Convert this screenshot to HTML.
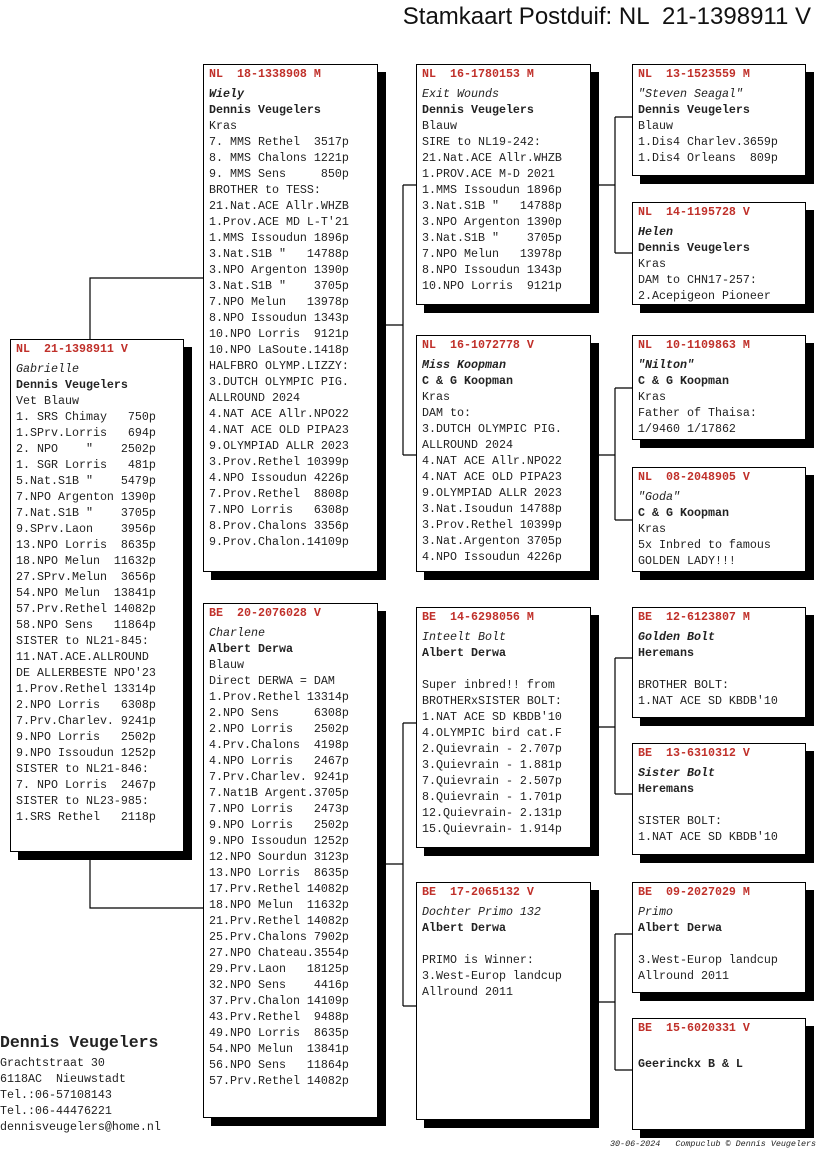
<!DOCTYPE html>
<html><head><meta charset="utf-8"><style>
body{margin:0;width:816px;height:1172px;background:#fff;position:relative;overflow:hidden;font-family:"Liberation Mono",monospace;font-size:11.67px;color:#222}
.b{position:absolute;background:#fff;border:1px solid #000;box-shadow:8px 8px 0 #000;box-sizing:border-box;padding:0 0 0 5px;white-space:pre;line-height:16px}
.h{color:#c0302a;font-weight:bold;margin-top:1px;margin-bottom:4px}
.i{font-style:italic}
.bo{font-weight:bold}
svg{position:absolute;left:0;top:0}
.t{position:absolute;right:5px;top:3px;font-family:"Liberation Sans",sans-serif;font-size:24px;color:#111;white-space:pre}
</style></head><body>
<svg width="816" height="1172"><g stroke="#000" stroke-width="1.2" fill="none">
<path d="M90 339V278H203M90 852V908H203"/>
<path d="M377 325H403M403 185V455M403 185H416M403 455H416"/>
<path d="M377 864H403M403 723V1006M403 723H416M403 1006H416"/>
<path d="M590 185H615M615 117V253M615 117H632M615 253H632"/>
<path d="M590 455H615M615 388V520M615 388H632M615 520H632"/>
<path d="M590 727H615M615 658V794M615 658H632M615 794H632"/>
<path d="M590 1002H615M615 934V1070M615 934H632M615 1070H632"/>
</g></svg>
<div class="t">Stamkaart Postduif: NL  21-1398911 V</div>

<div class="b" style="left:10px;top:339px;width:174px;height:513px"><div class="h">NL  21-1398911 V</div><div class="i">Gabrielle</div><div class="bo">Dennis Veugelers</div>Vet Blauw
1. SRS Chimay   750p
1.SPrv.Lorris   694p
2. NPO    "    2502p
1. SGR Lorris   481p
5.Nat.S1B "    5479p
7.NPO Argenton 1390p
7.Nat.S1B "    3705p
9.SPrv.Laon    3956p
13.NPO Lorris  8635p
18.NPO Melun  11632p
27.SPrv.Melun  3656p
54.NPO Melun  13841p
57.Prv.Rethel 14082p
58.NPO Sens   11864p
SISTER to NL21-845:
11.NAT.ACE.ALLROUND
DE ALLERBESTE NPO'23
1.Prov.Rethel 13314p
2.NPO Lorris   6308p
7.Prv.Charlev. 9241p
9.NPO Lorris   2502p
9.NPO Issoudun 1252p
SISTER to NL21-846:
7. NPO Lorris  2467p
SISTER to NL23-985:
1.SRS Rethel   2118p</div>

<div class="b" style="left:203px;top:64px;width:175px;height:508px"><div class="h">NL  18-1338908 M</div><div class="i bo">Wiely</div><div class="bo">Dennis Veugelers</div>Kras
7. MMS Rethel  3517p
8. MMS Chalons 1221p
9. MMS Sens     850p
BROTHER to TESS:
21.Nat.ACE Allr.WHZB
1.Prov.ACE MD L-T'21
1.MMS Issoudun 1896p
3.Nat.S1B "   14788p
3.NPO Argenton 1390p
3.Nat.S1B "    3705p
7.NPO Melun   13978p
8.NPO Issoudun 1343p
10.NPO Lorris  9121p
10.NPO LaSoute.1418p
HALFBRO OLYMP.LIZZY:
3.DUTCH OLYMPIC PIG.
ALLROUND 2024
4.NAT ACE Allr.NPO22
4.NAT ACE OLD PIPA23
9.OLYMPIAD ALLR 2023
3.Prov.Rethel 10399p
4.NPO Issoudun 4226p
7.Prov.Rethel  8808p
7.NPO Lorris   6308p
8.Prov.Chalons 3356p
9.Prov.Chalon.14109p</div>

<div class="b" style="left:203px;top:603px;width:175px;height:515px"><div class="h">BE  20-2076028 V</div><div class="i">Charlene</div><div class="bo">Albert Derwa</div>Blauw
Direct DERWA = DAM
1.Prov.Rethel 13314p
2.NPO Sens     6308p
2.NPO Lorris   2502p
4.Prv.Chalons  4198p
4.NPO Lorris   2467p
7.Prv.Charlev. 9241p
7.Nat1B Argent.3705p
7.NPO Lorris   2473p
9.NPO Lorris   2502p
9.NPO Issoudun 1252p
12.NPO Sourdun 3123p
13.NPO Lorris  8635p
17.Prv.Rethel 14082p
18.NPO Melun  11632p
21.Prv.Rethel 14082p
25.Prv.Chalons 7902p
27.NPO Chateau.3554p
29.Prv.Laon   18125p
32.NPO Sens    4416p
37.Prv.Chalon 14109p
43.Prv.Rethel  9488p
49.NPO Lorris  8635p
54.NPO Melun  13841p
56.NPO Sens   11864p
57.Prv.Rethel 14082p</div>

<div class="b" style="left:416px;top:64px;width:175px;height:241px"><div class="h">NL  16-1780153 M</div><div class="i">Exit Wounds</div><div class="bo">Dennis Veugelers</div>Blauw
SIRE to NL19-242:
21.Nat.ACE Allr.WHZB
1.PROV.ACE M-D 2021
1.MMS Issoudun 1896p
3.Nat.S1B "   14788p
3.NPO Argenton 1390p
3.Nat.S1B "    3705p
7.NPO Melun   13978p
8.NPO Issoudun 1343p
10.NPO Lorris  9121p</div>

<div class="b" style="left:416px;top:335px;width:175px;height:237px"><div class="h">NL  16-1072778 V</div><div class="i bo">Miss Koopman</div><div class="bo">C &amp; G Koopman</div>Kras
DAM to:
3.DUTCH OLYMPIC PIG.
ALLROUND 2024
4.NAT ACE Allr.NPO22
4.NAT ACE OLD PIPA23
9.OLYMPIAD ALLR 2023
3.Nat.Isoudun 14788p
3.Prov.Rethel 10399p
3.Nat.Argenton 3705p
4.NPO Issoudun 4226p</div>

<div class="b" style="left:416px;top:607px;width:175px;height:241px"><div class="h">BE  14-6298056 M</div><div class="i">Inteelt Bolt</div><div class="bo">Albert Derwa</div>
Super inbred!! from
BROTHERxSISTER BOLT:
1.NAT ACE SD KBDB'10
4.OLYMPIC bird cat.F
2.Quievrain - 2.707p
3.Quievrain - 1.881p
7.Quievrain - 2.507p
8.Quievrain - 1.701p
12.Quievrain- 2.131p
15.Quievrain- 1.914p</div>

<div class="b" style="left:416px;top:882px;width:175px;height:238px"><div class="h">BE  17-2065132 V</div><div class="i">Dochter Primo 132</div><div class="bo">Albert Derwa</div>
PRIMO is Winner:
3.West-Europ landcup
Allround 2011</div>

<div class="b" style="left:632px;top:64px;width:174px;height:112px"><div class="h">NL  13-1523559 M</div><div class="i">"Steven Seagal"</div><div class="bo">Dennis Veugelers</div>Blauw
1.Dis4 Charlev.3659p
1.Dis4 Orleans  809p</div>

<div class="b" style="left:632px;top:202px;width:174px;height:103px"><div class="h">NL  14-1195728 V</div><div class="i bo">Helen</div><div class="bo">Dennis Veugelers</div>Kras
DAM to CHN17-257:
2.Acepigeon Pioneer</div>

<div class="b" style="left:632px;top:335px;width:174px;height:105px"><div class="h">NL  10-1109863 M</div><div class="i bo">"Nilton"</div><div class="bo">C &amp; G Koopman</div>Kras
Father of Thaisa:
1/9460 1/17862</div>

<div class="b" style="left:632px;top:467px;width:174px;height:105px"><div class="h">NL  08-2048905 V</div><div class="i">"Goda"</div><div class="bo">C &amp; G Koopman</div>Kras
5x Inbred to famous
GOLDEN LADY!!!</div>

<div class="b" style="left:632px;top:607px;width:174px;height:111px"><div class="h">BE  12-6123807 M</div><div class="i bo">Golden Bolt</div><div class="bo">Heremans</div>
BROTHER BOLT:
1.NAT ACE SD KBDB'10</div>

<div class="b" style="left:632px;top:743px;width:174px;height:112px"><div class="h">BE  13-6310312 V</div><div class="i bo">Sister Bolt</div><div class="bo">Heremans</div>
SISTER BOLT:
1.NAT ACE SD KBDB'10</div>

<div class="b" style="left:632px;top:882px;width:174px;height:111px"><div class="h">BE  09-2027029 M</div><div class="i">Primo</div><div class="bo">Albert Derwa</div>
3.West-Europ landcup
Allround 2011</div>

<div class="b" style="left:632px;top:1018px;width:174px;height:112px"><div class="h">BE  15-6020331 V</div>
<div class="bo">Geerinckx B &amp; L</div></div>

<div style="position:absolute;left:0;top:1033px;font-weight:bold;font-size:16.5px;line-height:20px">Dennis Veugelers</div>
<div style="position:absolute;left:0;top:1055px;white-space:pre;line-height:16px">Grachtstraat 30
6118AC  Nieuwstadt
Tel.:06-57108143
Tel.:06-44476221
dennisveugelers@home.nl</div>
<div style="position:absolute;left:610px;top:1139px;font-size:8.4px;font-style:italic;white-space:pre">30-06-2024   Compuclub © Dennis Veugelers</div>
</body></html>
